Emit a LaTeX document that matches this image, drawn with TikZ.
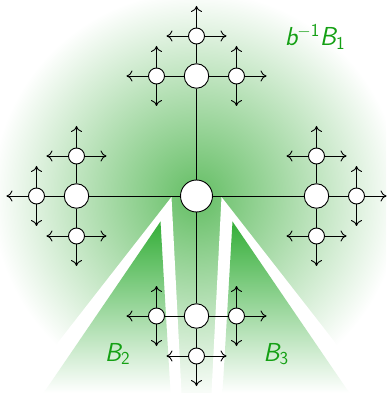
\documentclass[tikz,border=0pt]{standalone}
\usepackage{tikz}
\usetikzlibrary{arrows.meta, calc}
\definecolor{bgcore}{RGB}{100,190,100}
\definecolor{conetop}{RGB}{52,174,56}
\definecolor{labelgreen}{RGB}{20,160,20}
\tikzstyle{leaf}=[-{Computer Modern Rightarrow[length=6pt,width=11pt]}, line width=0.9pt]

\begin{document}
\begin{tikzpicture}[x=1pt, y=1pt,
  vtx/.style={circle, draw=black, fill=white, line width=0.9pt, inner sep=0pt},
  hub/.style={vtx, minimum size=32pt},
  mid/.style={vtx, minimum size=24.5pt},
  sub/.style={vtx, minimum size=16pt},
  edge/.style={line width=0.9pt},
  region/.style={text=labelgreen, font=\fontsize{26}{30}\selectfont\sffamily}
]
\useasboundingbox (-196.5,-197) rectangle (189.5,196);
% shaded regions
\begin{scope}
  \clip (-196.5,-197) rectangle (189.5,196);
  \shade[inner color=bgcore, outer color=white] (0,0) circle (205);
  \fill[white] (-25,-1) -- (-178,-197) -- (-15,-197) -- cycle;
  \fill[white] (25,-1) -- (178,-197) -- (15,-197) -- cycle;
  \shade[top color=conetop, bottom color=white] (-36,-25.5) -- (-152.9,-197) -- (-26,-197) -- cycle;
  \shade[top color=conetop, bottom color=white] (36,-25.5) -- (152.9,-197) -- (26,-197) -- cycle;
\end{scope}

% tree
\node[hub] (c) at (0,0) {};
\foreach \a/\n in {90/u,180/l,0/r,270/d}{
  \node[mid] (m\n) at (\a:120) {};
  \draw[edge] (c) -- (m\n);
  \foreach \b [count=\i] in {\a-90,\a,\a+90}{
    \node[sub] (s\n\i) at ($(m\n)+(\b:40)$) {};
    \draw[edge] (m\n) -- (s\n\i);
    \foreach \e [count=\j] in {\b-90,\b,\b+90}{
      \coordinate (t\n\i\j) at ($(s\n\i)+(\e:30)$);
      \draw[leaf] (s\n\i) -- (t\n\i\j);
    }
  }
}

% labels
\node[region] (lb1) at (118.5,159) {{\itshape b}\textsuperscript{$-$1}{\itshape B}\textsubscript{1}};
\node[region] (lb2) at (-79,-158) {{\itshape B}\textsubscript{2}};
\node[region] (lb3) at (79.5,-158) {{\itshape B}\textsubscript{3}};
\end{tikzpicture}
\end{document}
